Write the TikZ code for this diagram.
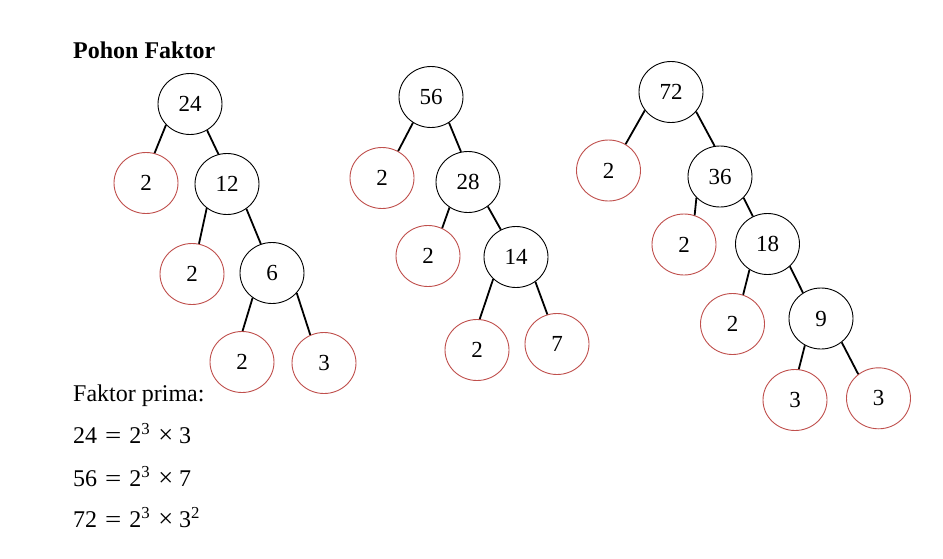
\documentclass[tikz,border=0pt]{standalone}
\usepackage{fontspec}
\usepackage{graphicx}
\setmainfont{Liberation Serif}
\usetikzlibrary{shapes.geometric}
\definecolor{fred}{RGB}{192,80,77}
\newcommand{\eqline}[3]{#1\hspace{8pt}\scalebox{1.2}[1]{=}\hspace{8pt}2\textsuperscript{3}\hspace{8pt}\scalebox{1.1}{×}\hspace{6pt}#2\textsuperscript{#3}}
\tikzset{
  fnode/.style={ellipse,draw=black,line width=0.9pt,minimum width=64pt,minimum height=61pt,inner sep=0pt,font=\fontsize{23}{26}\selectfont},
  pnode/.style={fnode,draw=fred},
  edge/.style={line width=1.8pt,black},
  txt/.style={anchor=base west,inner sep=0pt,font=\fontsize{24}{28}\selectfont}
}
\begin{document}
\begin{tikzpicture}[x=1pt,y=-1pt]
\path[use as bounding box,fill=white] (0,0) rectangle (943,558);
\node[txt,font=\fontsize{24}{28}\selectfont\bfseries] (title) at (73,58) {Pohon Faktor};
% tree 1
\node[fnode] (a24) at (190,104) {24};
\node[pnode] (a2a) at (146,183) {2};
\node[fnode] (a12) at (227,184) {12};
\node[pnode] (a2b) at (192,274) {2};
\node[fnode] (a6) at (272,273) {6};
\node[pnode] (a2c) at (242,362) {2};
\node[pnode] (a3) at (324,363) {3};
\draw[edge] (a24.221) -- (a2a.74);
\draw[edge] (a24.303) -- (a12.106);
\draw[edge] (a12.230) -- (a2b.77);
\draw[edge] (a12.308) -- (a6.111);
\draw[edge] (a6.232) -- (a2c.89);
\draw[edge] (a6.321) -- (a3.116);
% tree 2
\node[fnode] (b56) at (431,97) {56};
\node[pnode] (b2a) at (382,178) {2};
\node[fnode] (b28) at (468,182) {28};
\node[pnode] (b2b) at (428,256) {2};
\node[fnode] (b14) at (516,257) {14};
\node[pnode] (b2c) at (477,350) {2};
\node[pnode] (b7) at (557,344) {7};
\draw[edge] (b56.235) -- (b2a.59);
\draw[edge] (b56.305) -- (b28.103);
\draw[edge] (b28.234) -- (b2b.63);
\draw[edge] (b28.309) -- (b14.119);
\draw[edge] (b14.224) -- (b2c.85);
\draw[edge] (b14.308) -- (b7.108);
% tree 3
\node[fnode] (c72) at (671,92) {72};
\node[pnode] (c2a) at (608.5,170.5) {2};
\node[fnode] (c36) at (720,176.5) {36};
\node[pnode] (c2b) at (684,244.5) {2};
\node[fnode] (c18) at (767.5,244) {18};
\node[pnode] (c2c) at (732.5,324) {2};
\node[fnode] (c9) at (821,318.5) {9};
\node[pnode] (c3a) at (795,400) {3};
\node[pnode] (c3b) at (878.5,398.3) {3};
\draw[edge] (c72.215) -- (c2a.57);
\draw[edge] (c72.322) -- (c36.100);
\draw[edge] (c36.222) -- (c2b.70);
\draw[edge] (c36.318) -- (c18.118);
\draw[edge] (c18.235) -- (c2c.70);
\draw[edge] (c18.315) -- (c9.125);
\draw[edge] (c9.239) -- (c3a.83);
\draw[edge] (c9.311) -- (c3b.130);
% text
\node[txt] (fp) at (73,401.7) {Faktor prima:};
\node[txt] (e1) at (73,443.3) {\eqline{24}{3}{}};
\node[txt] (e2) at (73,486.7) {\eqline{56}{7}{}};
\node[txt] (e3) at (73,527.7) {\eqline{72}{3}{2}};
\end{tikzpicture}
\end{document}
